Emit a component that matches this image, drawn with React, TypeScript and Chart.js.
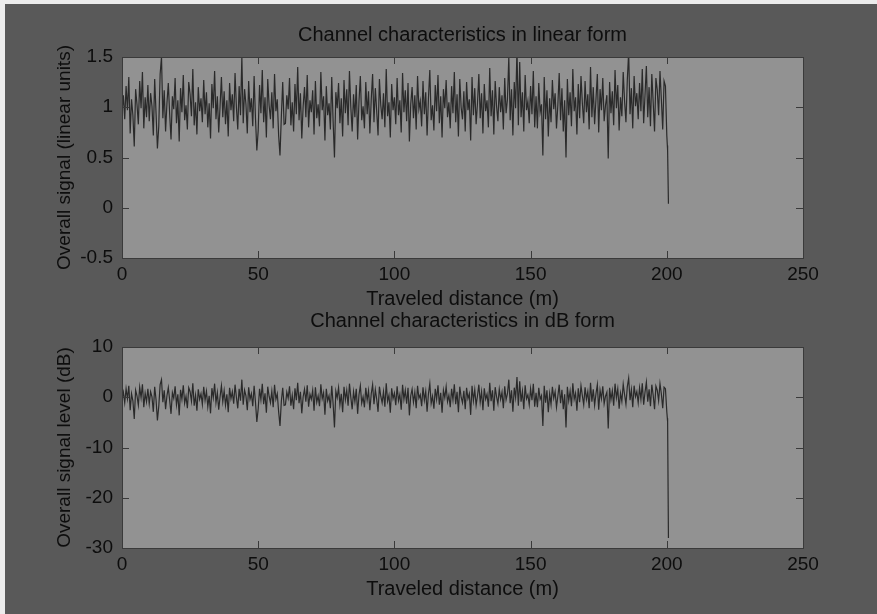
import React, { useEffect, useRef } from "react";
import { Chart, registerables } from "chart.js";

Chart.register(...registerables);

// ---------- DATA ----------
const DISTANCE_STEP_M = 0.5; // samples every 0.5 m from 0 to 200 m

const linearSignal: number[] = [
  0.95, 1.12, 0.88, 1.21, 0.97, 1.30, 0.74, 1.08, 0.92, 0.61, 1.18, 1.03, 0.83, 1.26, 0.99, 1.35, 0.79, 1.10, 0.90, 1.22,
  0.86, 1.14, 1.01, 0.72, 1.28, 0.94, 0.59, 0.81, 1.33, 1.50, 0.89, 1.17, 0.76, 1.04, 1.24, 0.93, 0.68, 1.11, 0.98, 1.29,
  0.84, 1.07, 0.66, 1.19, 0.95, 1.32, 0.87, 1.02, 0.78, 1.25, 1.13, 0.91, 1.38, 0.82, 1.05, 0.73, 1.20, 0.96, 1.09, 0.85,
  1.27, 0.93, 1.15, 0.80, 1.04, 0.69, 1.23, 0.99, 1.36, 0.88, 1.11, 0.75, 1.01, 1.30, 0.90, 1.16, 0.83, 1.07, 0.71, 1.24,
  0.97, 1.13, 0.86, 1.34, 1.00, 0.78, 1.21, 0.92, 1.50, 0.84, 1.18, 1.03, 0.74, 1.26, 0.95, 1.09, 0.81, 1.31, 0.89, 0.57,
  0.77, 1.22, 0.94, 1.37, 0.85, 1.10, 0.70, 1.28, 1.02, 0.88, 1.15, 0.79, 1.33, 0.96, 1.08, 0.72, 0.52, 0.91, 1.25, 0.83,
  0.84, 1.12, 0.98, 1.29, 0.82, 1.05, 0.76, 1.23, 0.93, 1.40, 0.87, 1.14, 0.69, 1.01, 1.20, 0.90, 1.32, 0.80, 1.07, 0.95,
  1.17, 0.73, 1.26, 0.89, 1.03, 0.81, 1.35, 0.97, 1.11, 0.67, 1.21, 0.92, 1.04, 0.78, 1.30, 0.86, 0.50, 1.15, 0.99, 1.24,
  0.84, 1.09, 0.71, 1.27, 0.94, 1.18, 0.82, 1.36, 1.00, 0.76, 1.13, 0.90, 1.22, 0.68, 1.06, 1.31, 0.87, 1.01, 0.79, 1.25,
  0.93, 1.16, 0.74, 1.08, 1.33, 0.85, 1.19, 0.96, 0.72, 1.28, 1.02, 0.88, 1.14, 0.80, 1.38, 0.91, 1.05, 0.70, 1.23, 0.97,
  1.10, 0.83, 1.29, 0.92, 1.07, 0.75, 1.34, 0.95, 1.17, 0.86, 1.24, 0.66, 1.03, 1.20, 0.89, 1.12, 0.78, 1.31, 0.98, 1.06,
  0.81, 1.26, 0.93, 1.15, 0.72, 1.09, 1.37, 0.87, 1.02, 0.77, 1.22, 0.96, 1.32, 0.84, 1.11, 0.70, 1.18, 0.99, 1.27, 0.90,
  1.05, 0.79, 1.21, 0.94, 1.35, 0.85, 1.13, 0.71, 1.28, 1.00, 0.88, 1.16, 0.76, 1.25, 0.97, 1.08, 0.67, 1.30, 0.92, 1.19,
  0.83, 1.04, 1.33, 0.89, 1.14, 0.74, 1.23, 0.96, 1.07, 0.80, 1.39, 0.91, 1.17, 0.73, 1.26, 1.01, 0.86, 1.20, 0.95, 1.12,
  0.78, 1.29, 0.94, 1.08, 1.50, 0.87, 1.18, 0.72, 1.25, 0.99, 1.58, 0.82, 1.45, 0.90, 1.15, 0.76, 1.32, 0.97, 1.06, 0.84,
  1.21, 0.93, 1.36, 0.80, 1.11, 0.79, 1.24, 0.95, 1.03, 0.52, 1.30, 0.88, 1.17, 0.71, 1.09, 0.85, 1.27, 0.98, 1.14, 0.79,
  1.02, 1.34, 0.87, 1.19, 0.76, 1.07, 0.50, 1.28, 0.92, 1.15, 0.81, 1.38, 0.96, 1.10, 0.73, 1.23, 0.89, 1.31, 1.04, 0.84,
  1.26, 0.95, 1.13, 0.78, 1.40, 0.90, 1.20, 0.83, 1.08, 1.33, 0.75, 1.18, 0.97, 1.29, 0.86, 1.02, 1.12, 0.49, 1.25, 0.94,
  1.16, 0.82, 1.37, 0.99, 1.22, 0.77, 1.10, 0.91, 1.35, 1.06, 0.85, 1.27, 1.55, 0.93, 1.19, 0.79, 1.31, 1.01, 1.14, 0.88,
  1.24, 0.96, 1.38, 0.84, 1.12, 1.41, 0.90, 1.20, 0.81, 1.33, 1.05, 0.76, 1.29, 1.17, 0.92, 1.36, 1.08, 0.78, 1.26, 1.21,
  0.72,
];

const dbSignal: number[] = [
  -0.4, 1.0, -1.1, 1.7, -0.3, 2.3, -2.6, 0.7, -0.7, -4.3, 1.4, 0.3, -1.6, 2.0, -0.1, 2.6, -2.0, 0.8, -0.9, 1.7,
  -1.3, 1.1, 0.1, -2.9, 2.1, -0.5, -4.6, -1.8, 2.5, 3.5, -1.0, 1.4, -2.4, 0.3, 1.9, -0.6, -3.3, 0.9, -0.2, 2.2,
  -1.5, 0.6, -3.6, 1.5, -0.4, 2.4, -1.2, 0.2, -2.2, 1.9, 1.1, -0.8, 2.8, -1.7, 0.4, -2.7, 1.6, -0.4, 0.7, -1.4,
  2.1, -0.6, 1.2, -1.9, 0.3, -3.2, 1.8, -0.1, 2.7, -1.1, 0.9, -2.5, 0.1, 2.3, -0.9, 1.3, -1.6, 0.6, -3.0, 1.9,
  -0.3, 1.1, -1.3, 2.5, 0.0, -2.2, 1.7, -0.7, 3.5, -1.5, 1.4, 0.3, -2.6, 2.0, -0.4, 0.7, -1.8, 2.3, -1.0, -4.9,
  -2.3, 1.7, -0.5, 2.7, -1.4, 0.8, -3.1, 2.1, 0.2, -1.1, 1.2, -2.0, 2.5, -0.4, 0.7, -2.9, -5.7, -0.8, 1.9, -1.6,
  -1.5, 1.0, -0.2, 2.2, -1.7, 0.4, -2.4, 1.8, -0.6, 2.9, -1.2, 1.1, -3.2, 0.1, 1.6, -0.9, 2.4, -1.9, 0.6, -0.4,
  1.4, -2.7, 2.0, -1.0, 0.3, -1.8, 2.6, -0.3, 0.9, -3.5, 1.7, -0.7, 0.3, -2.2, 2.3, -1.3, -6.0, 1.2, -0.1, 1.9,
  -1.5, 0.7, -3.0, 2.1, -0.5, 1.4, -1.7, 2.7, 0.0, -2.4, 1.1, -0.9, 1.7, -3.3, 0.5, 2.3, -1.2, 0.1, -2.0, 1.9,
  -0.6, 1.3, -2.6, 0.7, 2.5, -1.4, 1.5, -0.4, -2.9, 2.1, 0.2, -1.1, 1.1, -1.9, 2.8, -0.8, 0.4, -3.1, 1.8, -0.3,
  0.8, -1.6, 2.2, -0.7, 0.6, -2.5, 2.5, -0.4, 1.4, -1.3, 1.9, -3.6, 0.3, 1.6, -1.0, 1.0, -2.2, 2.3, -0.2, 0.5,
  -1.8, 2.0, -0.6, 1.2, -2.9, 0.7, 2.7, -1.2, 0.2, -2.3, 1.7, -0.4, 2.4, -1.5, 0.9, -3.1, 1.4, -0.1, 2.1, -0.9,
  0.4, -2.0, 1.7, -0.5, 2.6, -1.4, 1.1, -3.0, 2.1, 0.0, -1.1, 1.3, -2.4, 1.9, -0.3, 0.7, -3.5, 2.3, -0.7, 1.5,
  -1.6, 0.3, 2.5, -1.0, 1.1, -2.6, 1.8, -0.4, 0.6, -1.9, 2.9, -0.8, 1.4, -2.7, 2.0, 0.1, -1.3, 1.6, -0.4, 1.0,
  -2.2, 2.2, -0.5, 0.7, 3.5, -1.2, 1.4, -2.9, 1.9, -0.1, 4.0, -1.7, 3.2, -0.9, 1.2, -2.4, 2.4, -0.3, 0.5, -1.5,
  1.7, -0.6, 2.7, -1.9, 0.9, -2.0, 1.9, -0.4, 0.3, -5.7, 2.3, -1.1, 1.4, -3.0, 0.7, -1.4, 2.1, -0.2, 1.1, -2.0,
  0.2, 2.5, -1.2, 1.5, -2.4, 0.6, -6.0, 2.1, -0.7, 1.2, -1.8, 2.8, -0.4, 0.8, -2.7, 1.8, -1.0, 2.3, 0.3, -1.5,
  2.0, -0.4, 1.1, -2.2, 2.9, -0.9, 1.6, -1.6, 0.7, 2.5, -2.5, 1.4, -0.3, 2.2, -1.3, 0.2, 1.0, -6.2, 1.9, -0.5,
  1.3, -1.7, 2.7, -0.1, 1.7, -2.3, 0.8, -0.8, 2.6, 0.5, -1.4, 2.1, 3.8, -0.6, 1.5, -2.0, 2.3, 0.1, 1.1, -1.1,
  1.9, -0.4, 2.8, -1.5, 1.0, 3.0, -0.9, 1.6, -1.8, 2.5, 0.4, -2.4, 2.2, 1.4, -0.7, 2.7, 0.7, -2.2, 2.0, 1.7,
  -2.9,
];

// final drop just after the end of the travelled path
const tailDistances: number[] = [200.2, 200.3, 200.6];
const tailLinear: number[] = [0.62, 0.57, 0.04];
const tailDb: number[] = [-4.2, -4.9, -28];

const X_MIN = 0, X_MAX = 250, X_STEP = 50;
const LIN_MIN = -0.5, LIN_MAX = 1.5, LIN_STEP = 0.5;
const DB_MIN = -30, DB_MAX = 10, DB_STEP = 10;

const TITLE_LINEAR = "Channel characteristics in linear form";
const TITLE_DB = "Channel characteristics in dB form";
const X_LABEL = "Traveled distance (m)";
const Y_LABEL_LINEAR = "Overall signal (linear units)";
const Y_LABEL_DB = "Overall signal level (dB)";

// ---------- STYLE ----------
const FONT = "'Liberation Sans', Arial, Helvetica, sans-serif";
const BG = "#595959";
const PLOT_BG = "#929292";
const TEXT = "#0d0d0d";
const AXIS = "#3a3a3a";
const LINE = "#2a2a2a";
const TICK_LEN = 7;

function buildPoints(values: number[], tailX: number[], tailY: number[]) {
  const pts = values.map((v, i) => ({ x: i * DISTANCE_STEP_M, y: v }));
  tailX.forEach((x, i) => pts.push({ x, y: tailY[i] }));
  return pts;
}

const axesPlugin = {
  id: "matlabAxes",
  beforeDatasetsDraw(chart: any) {
    const { ctx, chartArea: a } = chart;
    ctx.save();
    ctx.fillStyle = PLOT_BG;
    ctx.fillRect(a.left, a.top, a.right - a.left, a.bottom - a.top);
    ctx.restore();
  },
  afterDatasetsDraw(chart: any, _args: any, opts: any) {
    const { ctx, chartArea: a } = chart;
    const xs = chart.scales.x;
    const ys = chart.scales.y;
    ctx.save();
    ctx.strokeStyle = AXIS;
    ctx.lineWidth = 1;
    ctx.beginPath();
    xs.ticks.forEach((t: any) => {
      const px = Math.round(xs.getPixelForValue(t.value)) + 0.5;
      ctx.moveTo(px, a.bottom);
      ctx.lineTo(px, a.bottom - TICK_LEN);
      ctx.moveTo(px, a.top);
      ctx.lineTo(px, a.top + TICK_LEN);
    });
    ys.ticks.forEach((t: any) => {
      const py = Math.round(ys.getPixelForValue(t.value)) + 0.5;
      ctx.moveTo(a.left, py);
      ctx.lineTo(a.left + TICK_LEN, py);
      ctx.moveTo(a.right, py);
      ctx.lineTo(a.right - TICK_LEN, py);
    });
    ctx.stroke();
    ctx.strokeRect(
      Math.round(a.left) + 0.5,
      Math.round(a.top) + 0.5,
      Math.round(a.right - a.left),
      Math.round(a.bottom - a.top)
    );
    // plot title, centred over the axes box (as in MATLAB)
    if (opts && opts.text) {
      ctx.fillStyle = TEXT;
      ctx.font = `normal 20px ${FONT}`;
      ctx.textAlign = "center";
      ctx.textBaseline = "middle";
      ctx.fillText(opts.text, (a.left + a.right) / 2, a.top - opts.gap);
    }
    ctx.restore();
  },
};

function makeConfig(
  title: string,
  titleGap: number,
  topSpace: number,
  yLabel: string,
  points: { x: number; y: number }[],
  yMin: number,
  yMax: number,
  yStep: number
): any {
  return {
    type: "line",
    data: {
      datasets: [
        {
          data: points,
          borderColor: LINE,
          borderWidth: 1.2,
          pointRadius: 0,
          tension: 0,
          fill: false,
        },
      ],
    },
    plugins: [axesPlugin],
    options: {
      animation: false,
      responsive: false,
      devicePixelRatio: 1,
      events: [],
      layout: { padding: { left: 0, right: 74, top: topSpace, bottom: 0 } },
      plugins: {
        legend: { display: false },
        tooltip: { enabled: false },
        title: { display: false },
        matlabAxes: { text: title, gap: titleGap },
      },
      scales: {
        x: {
          type: "linear",
          min: X_MIN,
          max: X_MAX,
          afterFit: (s: any) => {
            s.height = 53;
          },
          grid: { display: false, drawTicks: false },
          border: { display: false },
          ticks: {
            stepSize: X_STEP,
            padding: 5,
            color: TEXT,
            maxRotation: 0,
            autoSkip: false,
            font: { family: FONT, size: 19, lineHeight: 1.2 },
            callback: (v: any) => String(Number(v)),
          },
          title: {
            display: true,
            text: X_LABEL,
            color: TEXT,
            font: { family: FONT, size: 20, lineHeight: 1.2 },
            padding: { top: 0, bottom: 0 },
          },
        },
        y: {
          type: "linear",
          min: yMin,
          max: yMax,
          afterFit: (s: any) => {
            s.width = 122;
          },
          grid: { display: false, drawTicks: false },
          border: { display: false },
          ticks: {
            stepSize: yStep,
            padding: 9,
            color: TEXT,
            font: { family: FONT, size: 19, lineHeight: 1.2 },
            callback: (v: any) => String(Number(v)),
          },
          title: {
            display: true,
            text: yLabel,
            color: TEXT,
            font: { family: FONT, size: 19, lineHeight: 1.2 },
            padding: { top: 53, bottom: 0 },
          },
        },
      },
    },
  };
}

export default function App() {
  const ref1 = useRef<HTMLCanvasElement | null>(null);
  const ref2 = useRef<HTMLCanvasElement | null>(null);

  useEffect(() => {
    const c1 = new Chart(
      ref1.current as HTMLCanvasElement,
      makeConfig(
        TITLE_LINEAR,
        22,
        57,
        Y_LABEL_LINEAR,
        buildPoints(linearSignal, tailDistances, tailLinear),
        LIN_MIN,
        LIN_MAX,
        LIN_STEP
      )
    );
    const c2 = new Chart(
      ref2.current as HTMLCanvasElement,
      makeConfig(
        TITLE_DB,
        26,
        47,
        Y_LABEL_DB,
        buildPoints(dbSignal, tailDistances, tailDb),
        DB_MIN,
        DB_MAX,
        DB_STEP
      )
    );
    return () => {
      c1.destroy();
      c2.destroy();
    };
  }, []);

  return (
    <div
      style={{
        position: "fixed",
        left: 0,
        top: 0,
        width: 877,
        height: 614,
        background: BG,
        overflow: "hidden",
      }}
    >
      <canvas
        ref={ref1}
        width={877}
        height={311}
        style={{ position: "absolute", left: 0, top: 0, width: 877, height: 311 }}
      />
      <canvas
        ref={ref2}
        width={877}
        height={301}
        style={{ position: "absolute", left: 0, top: 300, width: 877, height: 301 }}
      />
      <div style={{ position: "absolute", left: 0, top: 0, width: 877, height: 4, background: "#ececec" }} />
      <div style={{ position: "absolute", left: 0, top: 0, width: 5, height: 614, background: "#ececec" }} />
    </div>
  );
}
